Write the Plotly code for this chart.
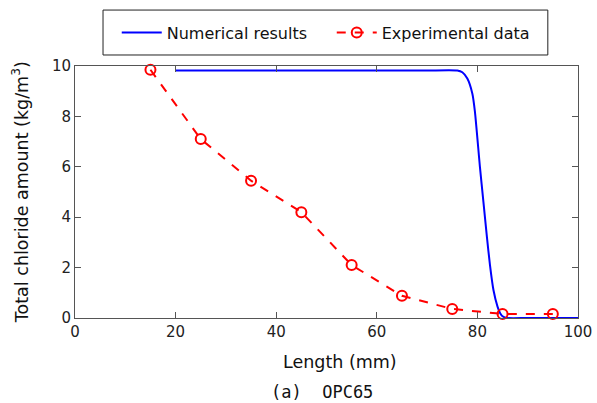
import plotly.graph_objects as go

# Numerical results
num_x = [20, 30, 40, 50, 60, 70, 76, 77, 78, 79, 79.5, 80.5, 81.2, 81.9, 82.5, 83.2, 84, 84.5, 85, 86, 90, 100]
num_y = [9.82, 9.82, 9.82, 9.82, 9.82, 9.82, 9.82, 9.75, 9.5, 8.9, 8.2, 6.0, 4.6, 3.2, 2.1, 1.1, 0.45, 0.2, 0.07, 0.0, 0.0, 0.0]

# Experimental data
exp_x = [15, 25, 35, 45, 55, 65, 75, 85, 95]
exp_y = [9.85, 7.1, 5.45, 4.2, 2.1, 0.88, 0.36, 0.16, 0.16]

x_ticks = [0, 20, 40, 60, 80, 100]
y_ticks = [0, 2, 4, 6, 8, 10]

fig = go.Figure()
fig.add_trace(go.Scatter(
    x=num_x, y=num_y, mode="lines", name="Numerical results",
    line=dict(color="#0000ff", width=2, shape="spline", smoothing=0.6),
    cliponaxis=False,
))
fig.add_trace(go.Scatter(
    x=exp_x, y=exp_y, mode="lines+markers", name="Experimental data",
    line=dict(color="#ff0000", width=2, dash="dash"),
    marker=dict(symbol="circle-open", size=10, color="#ff0000", line=dict(width=2)),
    cliponaxis=False,
))

axis_common = dict(
    showgrid=False, zeroline=False, showline=True, linecolor="#555555", linewidth=1,
    mirror="ticks", ticks="inside", ticklen=6, tickcolor="#555555", automargin=False,
    tickfont=dict(family="DejaVu Sans", size=15, color="#222222"),
)
fig.update_xaxes(range=[0, 100], tickvals=x_ticks, **axis_common)
fig.update_yaxes(range=[0, 10], tickvals=y_ticks, **axis_common)

title_font = dict(family="DejaVu Sans", size=17.5, color="#111111")

fig.update_layout(
    width=597, height=403,
    margin=dict(l=75, r=19, t=66, b=85),
    paper_bgcolor="white", plot_bgcolor="white",
    showlegend=True,
    legend=dict(orientation="h", x=0.083, xanchor="left", y=1.133, yanchor="middle",
                borderwidth=0, bgcolor="rgba(0,0,0,0)",
                font=dict(family="DejaVu Sans", size=16, color="#111111"),
                itemwidth=40, entrywidth=160, tracegroupgap=0),
    shapes=[dict(type="rect", xref="paper", yref="paper", x0=0.0557, x1=0.940, y0=1.0437, y1=1.222,
                 line=dict(color="#222222", width=1), fillcolor="white", layer="below")],
    annotations=[
        dict(text="Length (mm)", xref="paper", yref="paper", x=0.527, y=-0.175,
             xanchor="center", yanchor="middle", showarrow=False, font=title_font),
        dict(text="Total chloride amount (kg/m<sup>3</sup>)", xref="paper", yref="paper",
             x=-0.109, y=0.5, xanchor="center", yanchor="middle", textangle=-90,
             showarrow=False, font=title_font),
        dict(text="(a)  OPC65", xref="paper", yref="paper", x=0.491, y=-0.294,
             xanchor="center", yanchor="middle", showarrow=False,
             font=dict(family="DejaVu Sans Mono", size=17, color="#111111")),
    ],
)

fig.write_html("out.html")
